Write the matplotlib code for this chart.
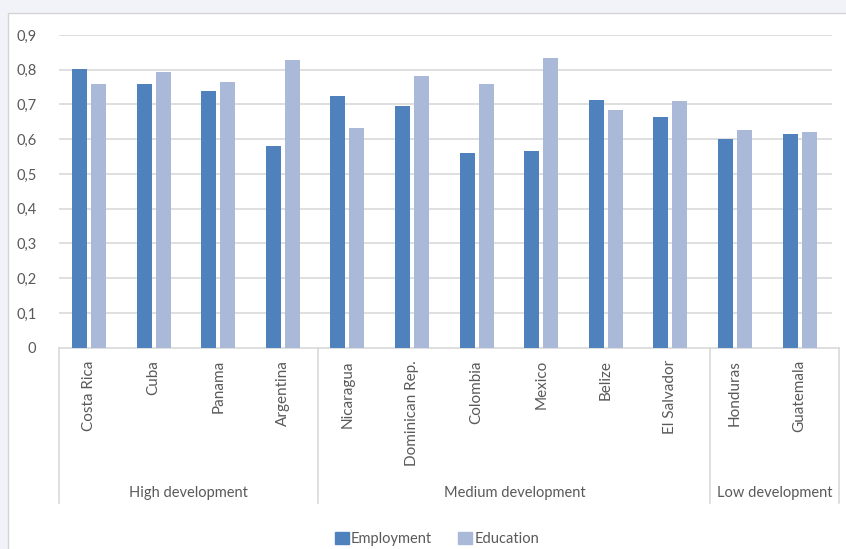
import numpy as np
import matplotlib.pyplot as plt
from matplotlib.patches import Rectangle, Patch
from matplotlib.ticker import FuncFormatter
import matplotlib.transforms as mtransforms

countries = ['Costa Rica', 'Cuba', 'Panama', 'Argentina', 'Nicaragua', 'Dominican Rep.',
             'Colombia', 'Mexico', 'Belize', 'El Salvador', 'Honduras', 'Guatemala']
employment = [0.803, 0.759, 0.739, 0.581, 0.725, 0.695, 0.561, 0.567, 0.714, 0.665, 0.602, 0.616]
education = [0.759, 0.793, 0.764, 0.827, 0.632, 0.783, 0.759, 0.833, 0.685, 0.709, 0.626, 0.621]
groups = ['High development', 'Medium development', 'Low development']
group_sizes = [4, 6, 2]

c_emp = '#4f81bd'
c_edu = '#aab9d8'
grid_c = '#d9d9d9'
text_c = '#595959'

plt.rcParams['font.family'] = ['Lato', 'DejaVu Sans']

W, H = 846, 549
fig = plt.figure(figsize=(W / 100, H / 100), dpi=100)
fig.patch.set_facecolor('#f2f3f8')
# white chart area with thin border (screenshot look)
fig.add_artist(Rectangle((8 / W, -0.01), 1.0, (H - 13) / H + 0.01, transform=fig.transFigure,
                         facecolor='white', edgecolor='#d4d4d8', linewidth=1.0, zorder=0))

left, right = 58.7 / W, 839 / W
bottom, top = (H - 347.7) / H, (H - 35) / H
ax = fig.add_axes([left, bottom, right - left, top - bottom])
ax.set_facecolor('none')

x = np.arange(len(countries))
bw = 0.232
ax.bar(x - 0.147, employment, bw, color=c_emp, zorder=3, label='Employment')
ax.bar(x + 0.147, education, bw, color=c_edu, zorder=3, label='Education')

ax.set_xlim(-0.469, 11.61)
ax.set_ylim(0, 0.9)
ax.hlines(np.arange(0.1, 0.91, 0.1), -0.469, 11.5, color=grid_c, linewidth=1.2, zorder=1)

ax.set_yticks(np.arange(0, 0.91, 0.1))
ax.yaxis.set_major_formatter(FuncFormatter(lambda v, p: '0' if abs(v) < 1e-9 else ('%.1f' % v).replace('.', ',')))
ax.tick_params(axis='y', length=0, pad=16, labelsize=10.5, labelcolor=text_c)
ax.set_xticks(x)
ax.set_xticklabels(countries, rotation=90, va='top', ha='center')
ax.tick_params(axis='x', length=0, pad=9, labelsize=11, labelcolor=text_c)

for s in ['top', 'right', 'left']:
    ax.spines[s].set_visible(False)
ax.spines['bottom'].set_color(grid_c)
ax.spines['bottom'].set_linewidth(1.2)

# group separators and labels
trans = mtransforms.blended_transform_factory(ax.transData, fig.transFigure)
y_top = (H - 347.7) / H
y_bot = (H - 503) / H
edges = [-0.469, 3.55, 9.62, 11.61]
for e in edges:
    ax.plot([e, e], [y_top, y_bot], transform=trans, color=grid_c, linewidth=1.2, clip_on=False)
for i, g in enumerate(groups):
    ax.text((edges[i] + edges[i + 1]) / 2, (H - 493) / H, g, transform=trans,
            ha='center', va='center', fontsize=10.5, color=text_c)

handles = [Patch(color=c_emp, label='Employment'), Patch(color=c_edu, label='Education')]
fig.legend(handles=handles, loc='center', bbox_to_anchor=(437 / W, (H - 539) / H), ncol=2,
           frameon=False, fontsize=10.5, labelcolor=text_c, handlelength=0.95, handleheight=0.95,
           handletextpad=0.15, columnspacing=1.8, borderpad=0.1)

fig.savefig('out.png', dpi=100, facecolor=fig.get_facecolor())
